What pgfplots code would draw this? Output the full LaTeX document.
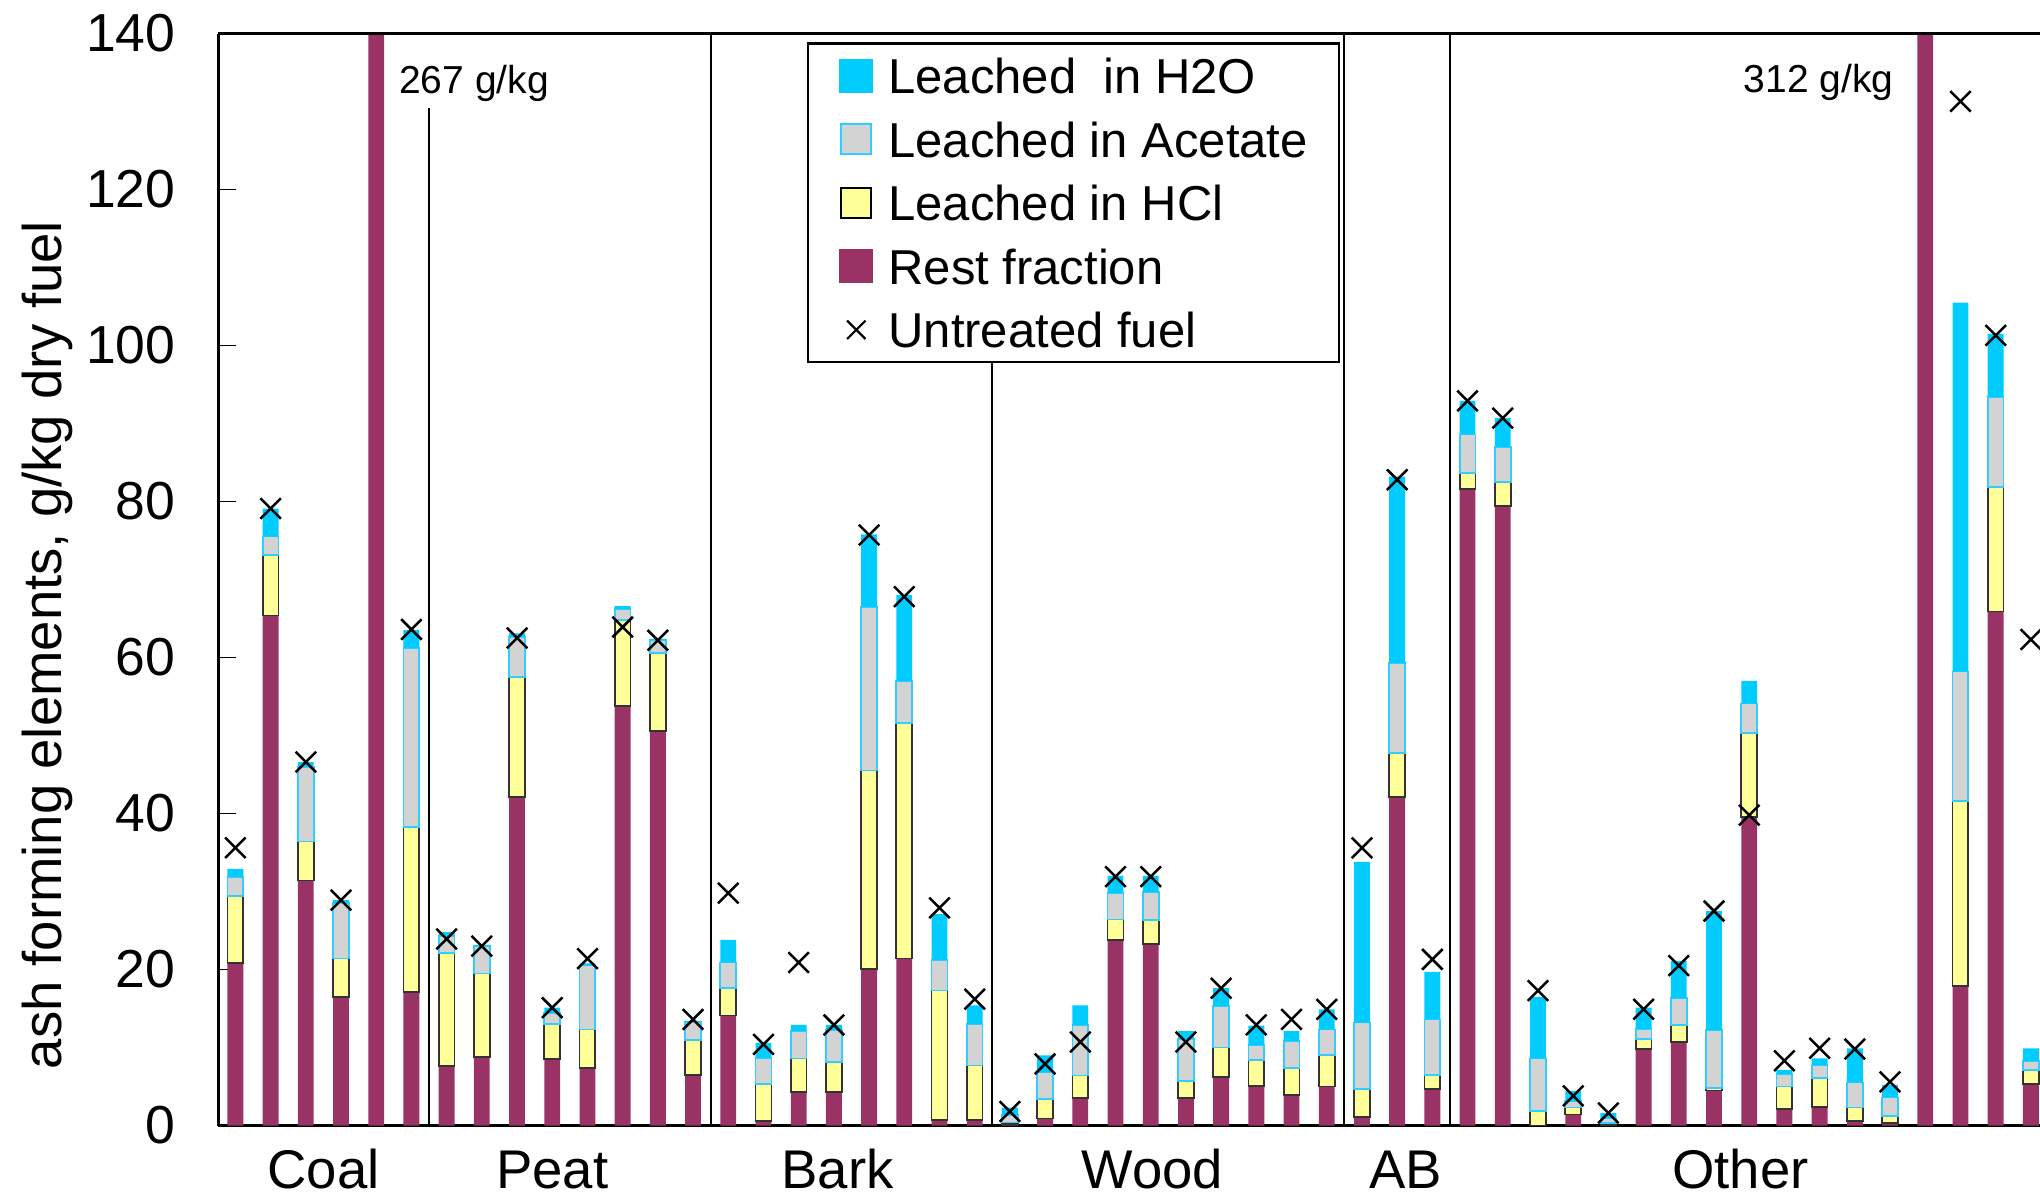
\documentclass[border=0pt]{standalone}
\usepackage{pgfplots}
\pgfplotsset{compat=1.18}
\usepackage{pgfplotstable}
\usepackage{fontspec}
\setmainfont{Liberation Sans}
\definecolor{cRest}{HTML}{993366}
\definecolor{cHCl}{HTML}{FFFF99}
\definecolor{cAcet}{HTML}{D3D3D3}
\definecolor{cAcetEdge}{HTML}{33CCFF}
\definecolor{cH2O}{HTML}{00CCFF}
% cumulative tops: rest, +HCl, +Acetate, +H2O ; untreated fuel
\pgfplotstableread{
x rest hcl acet h2o untr
0 20.8 29.4 31.9 32.9 35.6
1 65.4 73.1 75.5 79.1 79.1
2 31.4 36.4 46.0 46.6 46.6
3 16.5 21.4 28.5 28.9 28.9
4 267 267 267 267 nan
5 17.1 38.3 61.2 63.5 63.6
6 7.6 22.1 24.3 24.8 23.9
7 8.8 19.5 23.0 23.1 23.0
8 42.1 57.5 62.6 63.1 62.5
9 8.5 13.0 14.4 15.1 15.1
10 7.4 12.3 20.5 20.8 21.4
11 53.8 64.8 66.2 66.6 63.9
12 50.6 60.6 62.2 62.4 62.2
13 6.5 11.0 13.3 13.4 13.6
14 14.1 17.6 20.9 23.8 29.8
15 0.6 5.3 8.7 10.6 10.4
16 4.3 8.6 12.1 12.9 20.9
17 4.3 8.1 12.2 12.9 12.9
18 20.1 45.5 66.5 75.8 75.7
19 21.4 51.6 57.0 68.0 67.8
20 0.7 17.3 21.2 27.1 27.9
21 0.7 7.7 13.0 15.4 16.2
22 0.2 0.4 1.3 2.3 1.8
23 0.9 3.4 6.8 9.0 7.9
24 3.5 6.4 12.9 15.4 10.7
25 23.8 26.4 29.8 32.0 31.9
26 23.3 26.3 29.9 32.0 31.9
27 3.5 5.7 11.1 12.1 10.7
28 6.2 10.0 15.3 17.6 17.6
29 5.1 8.4 10.3 12.8 12.9
30 3.9 7.4 10.8 12.1 13.6
31 5.0 9.0 12.3 14.9 14.9
32 1.1 4.7 13.2 33.8 35.6
33 42.1 47.8 59.3 83.2 82.8
34 4.7 6.5 13.6 19.7 21.3
35 81.6 83.7 88.6 92.9 92.9
36 79.4 82.5 87.0 90.7 90.7
37 0.0 1.9 8.6 16.5 17.3
38 1.4 2.3 3.1 4.4 3.8
39 0.1 0.3 0.9 1.6 1.6
40 9.8 11.1 12.4 15.1 14.9
41 10.7 12.9 16.3 21.1 20.5
42 4.5 4.8 12.2 27.5 27.5
43 39.6 50.3 54.1 57.0 39.8
44 2.1 5.0 6.6 7.1 8.3
45 2.4 6.1 7.7 8.6 9.9
46 0.6 2.3 5.5 9.9 9.8
47 0.3 1.2 3.6 5.2 5.6
48 312 312 312 312 nan
49 17.9 41.6 58.2 105.5 131.3
50 65.9 81.9 93.4 101.5 101.3
51 5.3 7.1 8.3 9.9 62.3
}\datatab
\begin{document}
\begin{tikzpicture}
\begin{axis}[
  at={(0,0)}, anchor=south west,
  scale only axis, width=364.3pt, height=218.4pt,
  xmin=-0.48, xmax=51.26, ymin=0, ymax=140,
  axis x line=bottom, axis y line=left,
  axis line style={-, line width=0.45pt, black},
  clip mode=individual,
  ytick={0,20,...,140},
  tick align=inside,
  major tick length=3.5pt,
  ytick style={line width=0.3pt, black},
  xtick={2.5,9,17.1,26.05,33.25,42.75},
  xticklabels={Coal,Peat,Bark,Wood,AB,Other},
  major x tick style={draw=none},
  /pgf/number format/assume math mode=true,
  yticklabel style={font=\fontsize{10.7}{12}\selectfont, xshift=-5.1pt},
  xticklabel style={font=\fontsize{10.9}{13}\selectfont, anchor=base, inner sep=0pt, text depth=0pt, yshift=-12.5pt},
  ylabel={ash forming elements, g/kg dry fuel},
  ylabel style={font=\fontsize{10.9}{13}\selectfont, at={(axis description cs:-0.0942,0.44)}, anchor=center},
  legend cell align=left,
  legend style={at={(0.3231,0.9918)}, anchor=north west, draw=black, line width=0.45pt,
    inner xsep=6.2pt, inner ysep=2.9pt, row sep=5.6pt, column sep=3pt,
    font=\fontsize{9.8}{11}\selectfont,
    nodes={inner sep=0pt, text height=7.1pt, text depth=0pt}},
]
\addplot[ybar, stack plots=y, bar shift=0pt, bar width=0.45, fill=cRest, draw=none, forget plot]
  table[x=x, y=rest] {\datatab};
\addplot[ybar, stack plots=y, bar shift=0pt, bar width=0.45, fill=cHCl, draw=black!80, line width=0.35pt, forget plot]
  table[x=x, y expr=\thisrow{hcl}-\thisrow{rest}] {\datatab};
\addplot[ybar, stack plots=y, bar shift=0pt, bar width=0.45, fill=cAcet, draw=cAcetEdge, line width=0.35pt, forget plot]
  table[x=x, y expr=\thisrow{acet}-\thisrow{hcl}] {\datatab};
\addplot[ybar, stack plots=y, bar shift=0pt, bar width=0.45, fill=cH2O, draw=none, forget plot]
  table[x=x, y expr=\thisrow{h2o}-\thisrow{acet}] {\datatab};
\addplot[only marks, mark=x, mark size=2.9pt, mark options={line width=0.5pt, black}, forget plot]
  table[x=x, y=untr] {\datatab};

\addlegendimage{legend image code/.code={\fill[cH2O] (0pt,-3.2pt) rectangle (6.4pt,3.2pt);}}
\addlegendentry{Leached\ \ in H2O}
\addlegendimage{legend image code/.code={\draw[fill=cAcet, draw=cAcetEdge, line width=0.4pt] (0.2pt,-3pt) rectangle (6.2pt,3pt);}}
\addlegendentry{Leached in Acetate}
\addlegendimage{legend image code/.code={\draw[fill=cHCl, draw=black, line width=0.4pt] (0.2pt,-3pt) rectangle (6.2pt,3pt);}}
\addlegendentry{Leached in HCl}
\addlegendimage{legend image code/.code={\fill[cRest] (0pt,-3.2pt) rectangle (6.4pt,3.2pt);}}
\addlegendentry{Rest fraction}
\addlegendimage{legend image code/.code={\draw[line width=0.45pt] plot[only marks, mark=x, mark size=2.6pt] coordinates {(3.2pt,0pt)};}}
\addlegendentry{Untreated fuel}

\draw[line width=0.45pt] (rel axis cs:0,1) -- (rel axis cs:1,1);
\draw[line width=0.4pt] (axis cs:5.5,0) -- (axis cs:5.5,130.5);
\draw[line width=0.4pt] (axis cs:13.5,0) -- (axis cs:13.5,140);
\draw[line width=0.4pt] (axis cs:21.5,0) -- (axis cs:21.5,99);
\draw[line width=0.4pt] (axis cs:31.5,0) -- (axis cs:31.5,140);
\draw[line width=0.4pt] (axis cs:34.5,0) -- (axis cs:34.5,140);
\node[anchor=base west, inner sep=0pt, font=\fontsize{7.8}{9}\selectfont] at (axis cs:4.625,132.3) {267 g/kg};
\node[anchor=base west, inner sep=0pt, font=\fontsize{7.8}{9}\selectfont] at (axis cs:42.82,132.4) {312 g/kg};
\end{axis}
\pgfresetboundingbox
\useasboundingbox (-43.7pt,-14.3pt) rectangle (364.3pt,225.1pt);
\end{tikzpicture}
\end{document}
